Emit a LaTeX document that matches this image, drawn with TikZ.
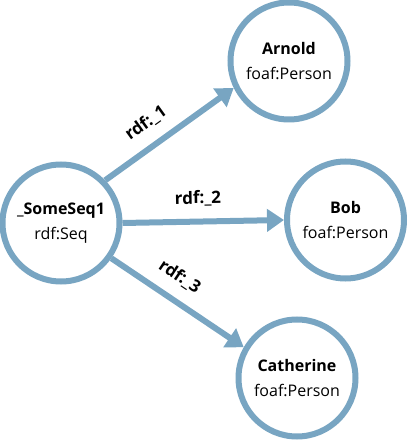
\documentclass[tikz,border=0pt]{standalone}
\usepackage{fontspec}
\setmainfont{Open Sans}
\usetikzlibrary{arrows.meta}
\definecolor{NodeClr}{RGB}{120,165,194}

\begin{document}
\begin{tikzpicture}[x=1pt,y=1pt,
  res/.style={circle,draw=NodeClr,line width=6pt,fill=white,minimum size=117pt,
    inner sep=0pt,align=center,font=\fontsize{16}{25}\selectfont},
  rel/.style={draw=NodeClr,line width=6pt,
    -{Triangle[length=17pt,width=22pt]}},
  edgelbl/.style={font=\fontsize{17}{20}\selectfont\bfseries,sloped,above=12pt,
    pos=0.42,inner sep=0pt}]
\useasboundingbox (0,0) rectangle (408,440);

\node[res] (seq) at (61,217) {\textbf{\_SomeSeq1}\\rdf:Seq};
\node[res] (arnold) at (289,379) {\textbf{Arnold}\\foaf:Person};
\node[res] (bob) at (345.5,220) {\textbf{Bob}\\foaf:Person};
\node[res] (cath) at (297,62) {\textbf{Catherine}\\foaf:Person};

\draw[rel] (seq.44) -- node[edgelbl] {rdf:\_1} (arnold.206);
\draw[rel] (seq.east) -- node[edgelbl,pos=0.47] {rdf:\_2} (bob.west);
\draw[rel] (seq.-35) -- node[edgelbl] {rdf:\_3} (cath.150);

\end{tikzpicture}
\end{document}
